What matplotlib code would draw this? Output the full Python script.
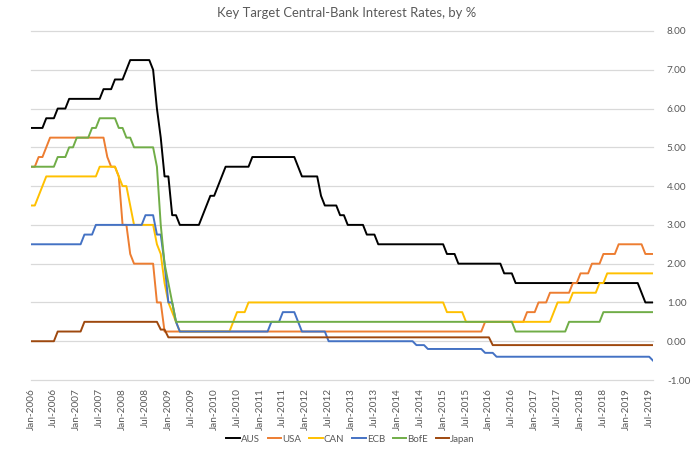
import numpy as np
import pandas as pd
import matplotlib
matplotlib.use("Agg")
import matplotlib.pyplot as plt

# Monthly policy rates, Jan-2006 .. Aug-2019 (164 months), stored as (rate, months) runs
aus_runs = [(5.5, 4), (5.75, 3), (6.0, 3), (6.25, 9), (6.5, 3), (6.75, 3), (7.0, 1),
            (7.25, 6), (7.0, 1), (6.0, 1), (5.25, 1), (4.25, 2), (3.25, 2), (3.0, 6),
            (3.25, 1), (3.5, 1), (3.75, 2), (4.0, 1), (4.25, 1), (4.5, 7), (4.75, 12),
            (4.5, 1), (4.25, 5), (3.75, 1), (3.5, 4), (3.25, 2), (3.0, 5), (2.75, 3),
            (2.5, 18), (2.25, 3), (2.0, 12), (1.75, 3), (1.5, 33), (1.25, 1), (1.0, 3)]
usa_runs = [(4.5, 2), (4.75, 2), (5.0, 1), (5.25, 15), (4.75, 1), (4.5, 2), (4.25, 1),
            (3.0, 2), (2.25, 1), (2.0, 6), (1.0, 2), (0.25, 84), (0.5, 11), (0.75, 3),
            (1.0, 3), (1.25, 6), (1.5, 2), (1.75, 3), (2.0, 3), (2.25, 4), (2.5, 7),
            (2.25, 3)]
can_runs = [(3.5, 2), (3.75, 1), (4.0, 1), (4.25, 14), (4.5, 5), (4.25, 1), (4.0, 2),
            (3.5, 1), (3.0, 6), (2.5, 1), (2.25, 1), (1.5, 1), (1.0, 1), (0.75, 1),
            (0.5, 1), (0.25, 14), (0.5, 1), (0.75, 3), (1.0, 52), (0.75, 5), (0.5, 23),
            (0.75, 1), (1.0, 4), (1.25, 7), (1.5, 2), (1.75, 13)]
ecb_runs = [(2.5, 14), (2.75, 3), (3.0, 13), (3.25, 3), (2.75, 2), (2.0, 1), (1.0, 2),
            (0.5, 1), (0.25, 24), (0.5, 3), (0.75, 4), (0.5, 1), (0.25, 7), (0.0, 23),
            (-0.1, 3), (-0.2, 15), (-0.3, 3), (-0.4, 41), (-0.5, 1)]
boe_runs = [(4.5, 7), (4.75, 3), (5.0, 2), (5.25, 4), (5.5, 2), (5.75, 5), (5.5, 2),
            (5.25, 2), (5.0, 6), (4.5, 1), (3.0, 1), (2.0, 1), (1.5, 1), (1.0, 1),
            (0.5, 89), (0.25, 14), (0.5, 9), (0.75, 14)]
jpn_runs = [(0.0, 7), (0.25, 7), (0.5, 20), (0.3, 2), (0.1, 85), (-0.1, 43)]

names = ["AUS", "USA", "CAN", "ECB", "BofE", "Japan"]
colors = ["#000000", "#ED7D31", "#FFC000", "#4472C4", "#70AD47", "#9E480E"]

months = pd.date_range("2006-01-01", periods=164, freq="MS")
tick_pos = list(range(0, 164, 6))
tick_labels = [months[i].strftime("%b-%Y") for i in tick_pos]


def expand(runs):
    vals, counts = zip(*runs)
    return np.repeat(vals, counts)


series = [expand(r) for r in [aus_runs, usa_runs, can_runs, ecb_runs, boe_runs, jpn_runs]]

plt.rcParams["font.family"] = ["Lato", "DejaVu Sans"]
grey = "#595959"

fig = plt.figure(figsize=(6.93, 4.49), dpi=100)
ax = fig.add_axes([31 / 693, 1 - 380 / 449, 622 / 693, 349 / 449])

x = np.arange(len(months))
for vals, name, col in zip(series, names, colors):
    ax.plot(x, vals, color=col, lw=1.4, label=name, solid_joinstyle="round")

ax.set_xlim(0, len(months) - 1)
ax.set_ylim(-1, 8)
ax.set_yticks(np.arange(-1, 9, 1))
ax.set_yticklabels(["%.2f" % v for v in np.arange(-1, 9, 1)])
ax.yaxis.tick_right()
ax.set_xticks(tick_pos)
ax.set_xticklabels(tick_labels, rotation=90)
ax.tick_params(axis="both", length=0, labelsize=7.2, colors=grey)
ax.tick_params(axis="y", pad=10)
ax.tick_params(axis="x", pad=6)
for s in ax.spines.values():
    s.set_visible(False)
for v in np.arange(-1, 9, 1):
    ax.axhline(v, color="#D9D9D9", lw=0.9, zorder=0, clip_on=False)

fig.suptitle("Key Target Central-Bank Interest Rates, by %", y=0.985, fontsize=9.4, color=grey)

fig.legend(loc="center", bbox_to_anchor=(0.506, 0.022), ncol=6, frameon=False,
           fontsize=7, handlelength=1.4, handletextpad=0.1, columnspacing=0.8,
           labelcolor=grey)

fig.savefig("out.png", dpi=100)
